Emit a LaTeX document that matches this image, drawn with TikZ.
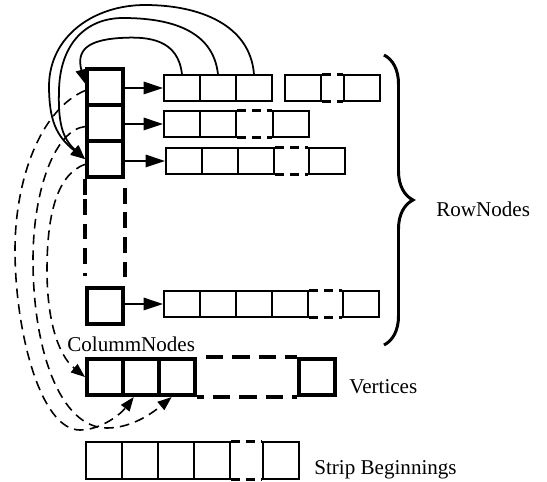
\documentclass[tikz,border=0pt]{standalone}
\usepackage{fontspec}
\setmainfont{Liberation Serif}
\usetikzlibrary{arrows.meta, calc, decorations.pathreplacing}

\begin{document}
\begin{tikzpicture}[
  x=0.02cm, y=-0.02cm,
  font=\fontsize{12}{14}\selectfont,
  cell/.style={
    draw, line width=1.1pt, inner sep=0pt, anchor=north west,
    minimum width=0.72cm, minimum height=0.52cm
  },
  colbox/.style={
    draw, line width=2.3pt, inner sep=0pt, anchor=north west,
    minimum width=0.72cm, minimum height=0.72cm
  },
  stripcell/.style={cell, minimum height=0.74cm},
  rowgap/.style={line width=1.7pt, dash pattern=on 5pt off 3.5pt},
  coldash/.style={line width=2.3pt, dash pattern=on 9pt off 5pt},
  vgap/.style={line width=2.3pt, dash pattern=on 10pt off 5pt},
  link/.style={line width=1.1pt, -{Triangle[length=11pt, width=7pt]}},
  back/.style={line width=1pt, -{Triangle[length=8pt, width=6.5pt]}},
  dback/.style={line width=0.9pt, dash pattern=on 5.5pt off 3.5pt, -{Triangle[length=8pt, width=6pt]}},
  rbrace/.style={line width=1.7pt, decorate, decoration={brace, amplitude=0.58cm}},
  lbl/.style={anchor=base west, inner sep=0pt},
]
  \useasboundingbox (0,0) rectangle (547,481);

  % --- Column nodes ---
  \node[colbox] (c1) at (85,67)  {};
  \node[colbox] (c2) at (85,103) {};
  \node[colbox] (c3) at (85,139) {};
  \node[colbox] (c4) at (85,286) {};
  \draw[line width=2.3pt] (c3.south west) -- ++(0,16);
  \draw[coldash] ($(c3.south west)+(0,20)$) -- ($(c4.north west)+(0,-10)$);
  \draw[coldash, dash phase=9pt] (c3.south east) -- (c4.north east);

  % --- Row nodes ---
  \node[cell] (r11) at (163,74) {};
  \node[cell] (r12) at (199,74) {};
  \node[cell] (r13) at (235,74) {};
  \node[cell] (r14) at (284,74) {};
  \node[cell] (r15) at (343,74) {};
  \draw[rowgap] (r14.north east) -- (r15.north west);
  \draw[rowgap] (r14.south east) -- (r15.south west);

  \node[cell] (r21) at (163,110) {};
  \node[cell] (r22) at (199,110) {};
  \node[cell] (r23) at (272,110) {};
  \draw[rowgap] (r22.north east) -- (r23.north west);
  \draw[rowgap] (r22.south east) -- (r23.south west);

  \node[cell] (r31) at (165,147) {};
  \node[cell] (r32) at (201,147) {};
  \node[cell] (r33) at (237,147) {};
  \node[cell] (r34) at (308,147) {};
  \draw[rowgap] (r33.north east) -- (r34.north west);
  \draw[rowgap] (r33.south east) -- (r34.south west);

  \node[cell] (r41) at (163,290) {};
  \node[cell] (r42) at (199,290) {};
  \node[cell] (r43) at (235,290) {};
  \node[cell] (r44) at (271,290) {};
  \node[cell] (r45) at (342,290) {};
  \draw[rowgap] (r44.north east) -- (r45.north west);
  \draw[rowgap] (r44.south east) -- (r45.south west);

  % column -> row
  \draw[link] (c1.east |- r11.west) -- (r11.west);
  \draw[link] (c2.east |- r21.west) -- (r21.west);
  \draw[link] (c3.east |- r31.west) -- (r31.west);
  \draw[link] (c4.east |- r41.west) -- (r41.west);

  \draw[rbrace] (384,55) -- (384,345);
  \node[lbl] (rowlbl) at (436,216) {RowNodes};

  % --- Vertices ---
  \node[lbl] (collbl) at (67,351) {ColummNodes};
  \node[colbox] (v1) at (85,357)  {};
  \node[colbox] (v2) at (121,357) {};
  \node[colbox] (v3) at (157,357) {};
  \node[colbox] (v4) at (297,357) {};
  \draw[vgap, dash phase=10pt] (v3.north east) -- (v4.north west);
  \draw[vgap, dash phase=6pt] (v3.south east) -- (v4.south west);
  \node[lbl] (vertlbl) at (349,393) {Vertices};

  % --- Strip beginnings ---
  \node[stripcell] (s1) at (85,441)  {};
  \node[stripcell] (s2) at (121,441) {};
  \node[stripcell] (s3) at (157,441) {};
  \node[stripcell] (s4) at (193,441) {};
  \node[stripcell] (s5) at (262,441) {};
  \draw[rowgap] (s4.north east) -- (s5.north west);
  \draw[rowgap] (s4.south east) -- (s5.south west);
  \node[lbl] (striplbl) at (314,474) {Strip Beginnings};

  % row cells back to column nodes
  \draw[back] (r11.north) .. controls (178,40) and (150,36) .. (120,38)
    .. controls (88,40) and (76,50) .. (c1.170);
  \draw[back] (r12.north) .. controls (213,30) and (170,18) .. (123,18)
    .. controls (85,18) and (60,45) .. (59,90)
    .. controls (58,122) and (62,138) .. (c3.west);
  \draw[back] (r13.north) .. controls (250,25) and (200,5) .. (145,5)
    .. controls (95,5) and (50,35) .. (49,85)
    .. controls (49,120) and (56,136) .. (c3.west);

  % column nodes to vertices (dashed)
  \draw[dback] (c1.190) .. controls (40,110) and (15,180) .. (15,250)
    .. controls (15,330) and (40,430) .. (80,430)
    .. controls (100,430) and (120,415) .. (v2.250);
  \draw[dback] (c2.190) .. controls (55,130) and (33,190) .. (33,260)
    .. controls (33,350) and (60,428) .. (107,428)
    .. controls (130,428) and (150,415) .. (v3.255);
  \draw[dback] (c3.195) .. controls (55,175) and (47,220) .. (47,270)
    .. controls (47,320) and (58,355) .. (v1.west);

\end{tikzpicture}
\end{document}
